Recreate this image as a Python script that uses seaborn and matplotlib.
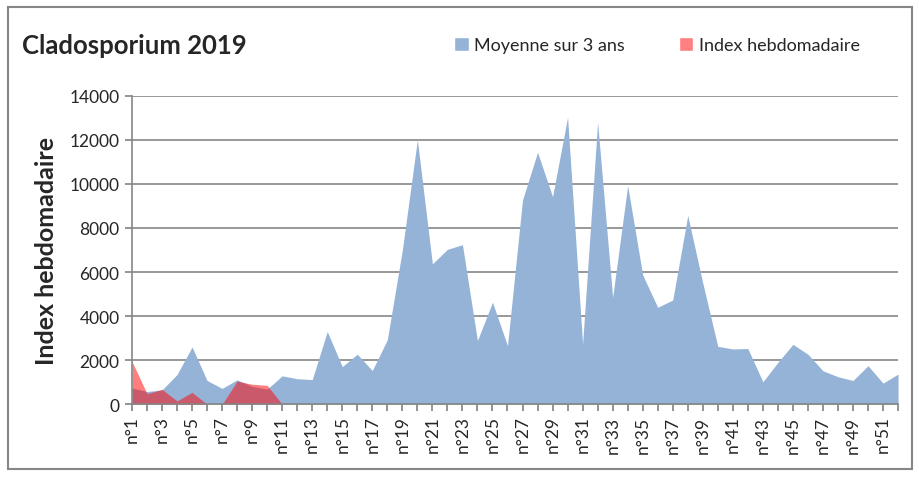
import numpy as np
import pandas as pd
import matplotlib
matplotlib.use("Agg")
import matplotlib.pyplot as plt
import seaborn as sns
from matplotlib.patches import Patch, Rectangle

# donnees (semaines n°1 a n°52)
semaines = list(range(1, 53))
moyenne_3_ans = [740, 580, 650, 1350, 2600, 1080, 720, 1110, 815, 690,
                 1290, 1160, 1120, 3300, 1710, 2270, 1530, 2930, 7000, 12000,
                 6370, 7030, 7240, 2890, 4630, 2660, 9270, 11430, 9420, 13020,
                 2740, 12790, 4850, 9920, 5870, 4400, 4730, 8560, 5500, 2630,
                 2510, 2530, 1020, 1900, 2720, 2270, 1520, 1250, 1080, 1750,
                 960, 1370]
index_hebdo = [1950, 480, 680, 150, 540, 0, 0, 1050, 910, 860,
               0, 0, 0, 0, 0, 0, 0, 0, 0, 0,
               0, 0, 0, 0, 0, 0, 0, 0, 0, 0,
               0, 0, 0, 0, 0, 0, 0, 0, 0, 0,
               0, 0, 0, 0, 0, 0, 0, 0, 0, 0,
               0, 0]
etiquettes = [f"n°{s}" if s % 2 == 1 else "" for s in semaines]

df = pd.DataFrame({"Semaine": semaines,
                   "Moyenne sur 3 ans": moyenne_3_ans,
                   "Index hebdomadaire": index_hebdo})

sns.set_theme(style="white")
plt.rcParams['font.family'] = ['Lato', 'DejaVu Sans']

bleu = "#95B3D7"
rouge = "#FF0000"
gris = "#868686"

fig = plt.figure(figsize=(9.19, 4.81), dpi=100)
ax = fig.add_axes([0.1436, 0.1574, 0.8336, 0.6416])

# contours (invisibles) via seaborn, remplissage avec fill_between
sns.lineplot(data=df, x="Semaine", y="Moyenne sur 3 ans", ax=ax, color=bleu, linewidth=0)
sns.lineplot(data=df, x="Semaine", y="Index hebdomadaire", ax=ax, color=rouge, linewidth=0)
ax.fill_between(df["Semaine"], df["Moyenne sur 3 ans"], color=bleu, linewidth=0, zorder=2)
ax.fill_between(df["Semaine"], df["Index hebdomadaire"], color=rouge, alpha=0.5, linewidth=0, zorder=3)

ax.set_xlim(1, 52)
ax.set_ylim(0, 14000)
ax.set_yticks(range(0, 14001, 2000))
ax.yaxis.grid(True, color=gris, linewidth=1.2)
ax.set_axisbelow(True)
ax.set_xticks(semaines)
ax.set_xticklabels(etiquettes, rotation=90, fontsize=12.5)
ax.tick_params(axis="y", labelsize=12.5, length=5, color=gris, direction="out", left=True, pad=4)
ax.tick_params(axis="x", length=5, color=gris, direction="out", bottom=True, pad=3)

for s in ["top", "right"]:
    ax.spines[s].set_visible(False)
for s in ["left", "bottom"]:
    ax.spines[s].set_color(gris)
    ax.spines[s].set_linewidth(1.2)
    ax.spines[s].set_zorder(4)

ax.set_xlabel("")
ax.set_ylabel("Index hebdomadaire", fontsize=18, fontweight="bold", labelpad=8)

fig.text(22 / 919, 1 - 46 / 481, "Cladosporium 2019", fontsize=18.5, fontweight="bold",
         va="center", ha="left")

handles = [Patch(facecolor=bleu, label="Moyenne sur 3 ans"),
           Patch(facecolor="#FF8080", label="Index hebdomadaire")]
fig.legend(handles=handles, loc="center left", bbox_to_anchor=(438 / 919, 1 - 46 / 481),
           ncol=2, frameon=False, fontsize=13, handlelength=0.8, handleheight=0.8,
           handletextpad=0.3, columnspacing=3.0)

fig.patches.append(Rectangle((8 / 919, 11 / 481), 904 / 919, 462 / 481, transform=fig.transFigure,
                             fill=False, edgecolor=gris, linewidth=1.5))

fig.savefig("out.png", dpi=100)
